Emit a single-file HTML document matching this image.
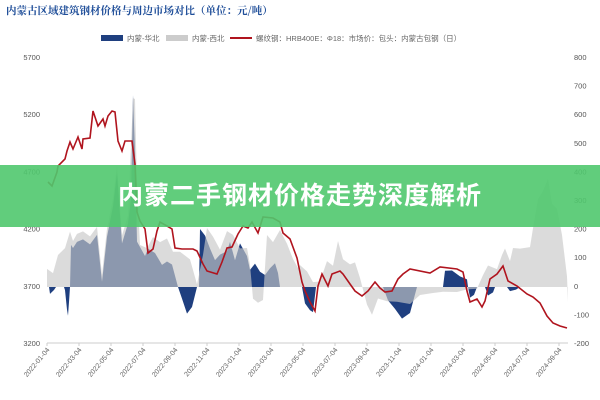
<!DOCTYPE html>
<html><head><meta charset="utf-8"><style>
body{margin:0;width:600px;height:400px;background:#fff;overflow:hidden;position:relative;font-family:"Liberation Sans","Noto Sans CJK SC",sans-serif}
.banner{position:absolute;left:0;top:165px;width:600px;height:62px;background:rgba(80,200,110,0.9);color:#fff;font-size:25px;font-weight:bold;text-align:center;line-height:62px;letter-spacing:1px}
</style></head><body>
<svg id="s" width="600" height="400" style="position:absolute;left:0;top:0" font-family="Liberation Sans, Noto Sans CJK SC, sans-serif">
<text x="6" y="14" font-size="10.5" font-weight="bold" fill="#1f4e99" font-family="Noto Serif CJK SC, serif">内蒙古区域建筑钢材价格与周边市场对比（单位：元/吨）</text>
<rect x="101" y="35" width="22" height="6" fill="#1f3f7f"/><text x="127" y="41" font-size="7.5" fill="#666">内蒙-华北</text>
<rect x="166" y="35" width="22" height="6" fill="#ccc"/><text x="192" y="41" font-size="7.5" fill="#666">内蒙-西北</text>
<rect x="230" y="37" width="22" height="2" fill="#b0141e"/><text x="256" y="41" font-size="7.5" fill="#666">螺纹钢：HRB400E：Φ18：市场价：包头：内蒙古包钢（日）</text>
<g id="g"></g>
</svg>
<div class="banner">内蒙二手钢材价格走势深度解析</div>
<script>
const g=document.getElementById('g');let h='';
const L=[5700,5200,4700,4200,3700,3200],R=[800,700,600,500,400,300,200,100,0,-100,-200];
L.forEach((v,i)=>{const y=57+i*57.2;h+=`<text x="40" y="${y+3}" font-size="7.5" fill="#555" text-anchor="end">${v}</text>`});
R.forEach((v,i)=>{const y=57+i*28.6;h+=`<text x="574" y="${y+3}" font-size="7.5" fill="#555">${v}</text>`});
const gray=[[47,267],[53,272],[58,253],[65,250],[70,233],[73,243],[77,232],[83,230],[90,237],[97,227],[102,273],[107,227],[113,197],[117,167],[122,237],[128,217],[133,100],[135,98],[137,183],[140,243],[147,250],[153,237],[160,243],[167,237],[173,250],[180,253],[190,260],[197,283],[203,253],[207,230],[213,237],[220,250],[227,230],[233,233],[240,250],[247,247],[250,265],[253,300],[258,302],[263,298],[267,237],[273,243],[280,230],[287,243],[293,257],[298,267],[300,267],[307,270],[313,283],[320,280],[327,263],[333,267],[338,243],[343,260],[350,263],[355,263],[360,280],[367,303],[372,313],[378,297],[387,303],[397,300],[410,303],[420,297],[433,293],[443,290],[457,290],[467,290],[477,290],[483,277],[488,267],[497,270],[502,257],[505,250],[510,263],[513,250],[520,247],[530,247],[533,227],[538,200],[543,193],[548,180],[552,203],[557,210],[562,237],[567,277],[568,303]];
const hid=[[71,245],[73,250],[77,240],[83,238],[90,245],[97,235],[102,280],[107,235],[113,205],[117,175],[122,245],[128,225]];
const navy=[[47,287],[49,287],[50,292],[54,292],[56,287],[64,287],[65,292],[67,310],[68,317],[69,300],[70,287],...hid,[131,200],[133,97],[135,150],[137,240],[145,255],[148,247],[155,255],[162,263],[167,260],[172,265],[178,287],[182,300],[187,313],[192,305],[197,287],[199,287],[200,227],[205,235],[210,250],[215,262],[220,255],[227,250],[230,240],[235,260],[240,245],[247,255],[250,270],[255,262],[260,270],[265,275],[270,270],[275,265],[278,275],[280,287],[302,287],[305,305],[310,310],[313,313],[316,287],[383,287],[388,300],[395,310],[402,317],[410,312],[417,287],[443,287],[445,272],[452,270],[460,275],[467,280],[468,287],[470,297],[474,295],[477,287],[485,287],[488,297],[493,292],[495,287],[507,287],[510,293],[516,291],[520,287],[568,287]];
const area=(p)=>{let d=`M${p[0][0]},287`;p.forEach(q=>{const j=(q[1]!=287?Math.sin(q[0]*2.3)*2:0);d+=`L${q[0]},${q[1]+j}`});return d+`L${p[p.length-1][0]},287Z`};
h+=`<path d="${area(navy)}" fill="#1f3f7f"/>`;
h+=`<path d="${area(gray)}" fill="#c8c8c8" fill-opacity="0.65"/>`;
const red=[[48,183],[52,185],[57,173],[58,165],[65,160],[67,150],[70,143],[73,148],[78,138],[82,148],[83,140],[90,137],[93,112],[98,125],[103,120],[105,125],[108,117],[112,110],[115,113],[118,140],[122,152],[125,140],[132,142],[135,163],[137,213],[140,220],[145,230],[148,252],[153,250],[157,230],[160,223],[167,225],[172,230],[175,247],[182,250],[193,248],[197,252],[203,263],[207,272],[217,273],[222,263],[227,247],[232,248],[238,233],[243,227],[248,227],[252,223],[258,232],[263,218],[273,217],[280,223],[283,232],[290,240],[297,257],[302,283],[305,290],[310,303],[315,310],[318,287],[322,273],[328,287],[332,273],[340,272],[343,273],[350,285],[355,290],[362,297],[368,290],[375,283],[380,287],[385,293],[392,290],[398,280],[403,273],[410,270],[430,272],[440,268],[457,268],[463,273],[467,290],[470,303],[477,298],[482,308],[485,300],[490,280],[497,273],[503,267],[508,280],[517,287],[527,293],[533,298],[540,302],[547,317],[553,322],[560,327],[567,327]];
let d='M'+red.map((q,i)=>`${q[0]},${q[1]+(i%2?1:-1)}`).join('L');
h+=`<path d="${d}" fill="none" stroke="#b0141e" stroke-width="1.6"/>`;
h+=`<line x1="47" y1="343" x2="568" y2="343" stroke="#ccc"/>`;
const dates=['2022-01-04','2022-03-04','2022-05-04','2022-07-04','2022-09-04','2022-11-04','2023-01-04','2023-03-04','2023-05-04','2023-07-04','2023-09-04','2023-11-04','2024-01-04','2024-03-04','2024-05-04','2024-07-04','2024-09-04'];
dates.forEach((t,i)=>{const x=47+i*32;h+=`<line x1="${x}" y1="343" x2="${x}" y2="346" stroke="#ccc"/><text transform="translate(${x+3},350) rotate(-50)" font-size="7" fill="#666" text-anchor="end">${t}</text>`});
g.innerHTML=h;
</script>
</body></html>
